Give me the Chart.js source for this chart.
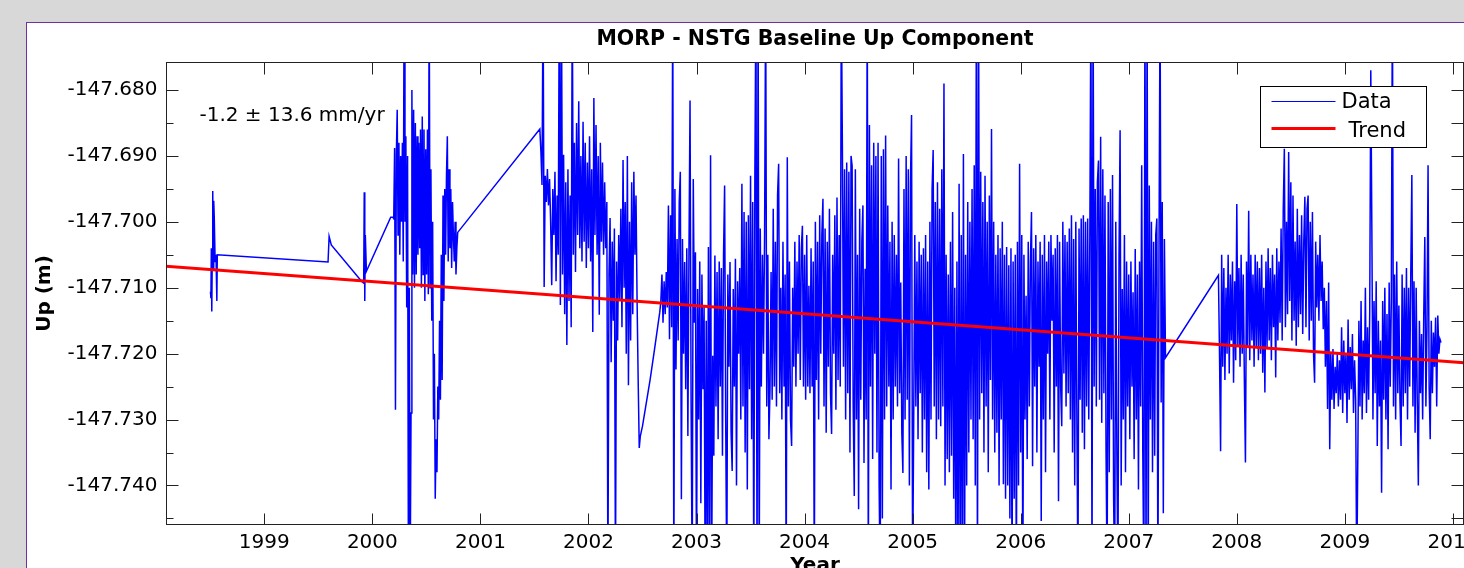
<!DOCTYPE html>
<html>
<head>
<meta charset="utf-8">
<title>MORP - NSTG Baseline Up Component</title>
<script src="https://cdn.jsdelivr.net/npm/chart.js@4.4.1/dist/chart.umd.min.js"></script>
<style>
  html, body { margin: 0; padding: 0; width: 1464px; height: 568px; overflow: hidden; background: #d8d8d8; }
  #panel { position: absolute; left: 26px; top: 22px; width: 1520px; height: 600px; background: #fff;
           border-left: 1px solid #7030a0; border-top: 1px solid #7030a0; }
  #wrap { position: absolute; left: 0; top: 0; width: 1500px; height: 560px; }
</style>
</head>
<body>
<div id="panel"><div id="wrap"><canvas id="chart"></canvas></div></div>
<script>
// daily solutions, [decimal year, up (m)]
const campaign1998 = [[1998.502,-147.7106],[1998.506,-147.7116],[1998.510,-147.704],[1998.514,-147.7136],[1998.518,-147.706],[1998.523,-147.6953],[1998.527,-147.7073],[1998.532,-147.6968],[1998.537,-147.6993],[1998.545,-147.706],[1998.553,-147.705],[1998.561,-147.712],[1998.565,-147.705]];

const sparse1999 = [[1999.59,-147.7061],[1999.60,-147.7022],[1999.62,-147.7035],[1999.90,-147.709],[1999.92,-147.7093],[1999.925,-147.6955],[1999.93,-147.712],[1999.935,-147.702],[1999.945,-147.7075],[2000.17,-147.6993]];

const dense2000 = [[2000.190,-147.6993],[2000.198,-147.6995],[2000.206,-147.6888],[2000.214,-147.7285],[2000.222,-147.69],[2000.230,-147.683],[2000.238,-147.702],[2000.246,-147.688],[2000.254,-147.705],[2000.262,-147.69],[2000.270,-147.7],[2000.278,-147.688],[2000.286,-147.706],[2000.294,-147.665],[2000.302,-147.7],[2000.310,-147.687],[2000.318,-147.713],[2000.326,-147.69],[2000.334,-147.755],[2000.342,-147.71],[2000.350,-147.755],[2000.358,-147.729],[2000.366,-147.68],[2000.374,-147.708],[2000.382,-147.683],[2000.390,-147.71],[2000.398,-147.685],[2000.406,-147.708],[2000.414,-147.687],[2000.422,-147.705],[2000.430,-147.688],[2000.438,-147.704],[2000.446,-147.686],[2000.454,-147.71],[2000.462,-147.684],[2000.470,-147.708],[2000.478,-147.686],[2000.486,-147.712],[2000.494,-147.689],[2000.502,-147.708],[2000.510,-147.686],[2000.518,-147.711],[2000.526,-147.665],[2000.534,-147.71],[2000.542,-147.692],[2000.550,-147.715],[2000.558,-147.7],[2000.566,-147.73],[2000.574,-147.72],[2000.582,-147.742],[2000.590,-147.733],[2000.598,-147.738],[2000.606,-147.725],[2000.614,-147.73],[2000.622,-147.715],[2000.630,-147.727],[2000.638,-147.705],[2000.646,-147.724],[2000.654,-147.696],[2000.662,-147.712],[2000.670,-147.695],[2000.678,-147.705],[2000.686,-147.693],[2000.694,-147.687],[2000.702,-147.706],[2000.710,-147.692],[2000.718,-147.704],[2000.726,-147.695],[2000.734,-147.707],[2000.742,-147.697],[2000.750,-147.702],[2000.758,-147.706],[2000.766,-147.7],[2000.774,-147.708],[2000.782,-147.704],[2000.790,-147.7016]];

const dense2001 = [[2001.55,-147.6859],[2001.56,-147.6894],[2001.57,-147.6944],[2001.58,-147.665],[2001.59,-147.7099],[2001.60,-147.693],[2001.61,-147.697],[2001.62,-147.692],[2001.63,-147.6975],[2001.64,-147.6935],[2001.65,-147.7],[2001.66,-147.7096],[2001.67,-147.695],[2001.68,-147.702],[2001.69,-147.6924],[2001.70,-147.709],[2001.71,-147.696],[2001.72,-147.705],[2001.73,-147.665],[2001.74,-147.7126],[2001.75,-147.665],[2001.76,-147.708],[2001.77,-147.6898],[2001.78,-147.714],[2001.79,-147.694],[2001.80,-147.7187],[2001.81,-147.692],[2001.82,-147.712],[2001.83,-147.696],[2001.84,-147.716],[2001.85,-147.665],[2001.86,-147.705],[2001.87,-147.688],[2001.88,-147.7076],[2001.89,-147.685],[2001.90,-147.702],[2001.91,-147.6817],[2001.92,-147.704],[2001.93,-147.69],[2001.94,-147.706],[2001.95,-147.6848],[2001.96,-147.703],[2001.97,-147.688],[2001.98,-147.707],[2001.99,-147.691],[2002.00,-147.704],[2002.01,-147.687],[2002.02,-147.706],[2002.03,-147.692],[2002.04,-147.7167],[2002.05,-147.6812],[2002.06,-147.702],[2002.07,-147.6853],[2002.08,-147.705],[2002.09,-147.69],[2002.10,-147.7141],[2002.11,-147.688],[2002.12,-147.703],[2002.13,-147.691],[2002.14,-147.705],[2002.15,-147.694],[2002.16,-147.704],[2002.17,-147.697],[2002.18,-147.755],[2002.19,-147.708],[2002.20,-147.6994],[2002.21,-147.7213],[2002.22,-147.703],[2002.23,-147.715],[2002.24,-147.701],[2002.25,-147.755],[2002.26,-147.706],[2002.27,-147.718],[2002.28,-147.702],[2002.29,-147.712],[2002.30,-147.698],[2002.31,-147.716],[2002.32,-147.6906],[2002.33,-147.71],[2002.34,-147.697],[2002.35,-147.72],[2002.36,-147.69],[2002.37,-147.7248],[2002.38,-147.7],[2002.39,-147.718],[2002.40,-147.694],[2002.41,-147.714],[2002.42,-147.6924],[2002.43,-147.705],[2002.44,-147.696],[2002.45,-147.712],[2002.46,-147.724],[2002.47,-147.7343],[2002.48,-147.7325],[2002.50,-147.731],[2002.53,-147.728],[2002.57,-147.724],[2002.61,-147.7195],[2002.64,-147.716],[2002.66,-147.7137]];

const dense2003 = [[2002.67,-147.712],[2002.68,-147.708],[2002.69,-147.7153],[2002.70,-147.709],[2002.71,-147.714],[2002.72,-147.7076],[2002.73,-147.713],[2002.74,-147.6975],[2002.75,-147.7178],[2002.76,-147.699],[2002.77,-147.716],[2002.78,-147.665],[2002.79,-147.755],[2002.80,-147.695],[2002.81,-147.7224],[2002.82,-147.7026],[2002.83,-147.718],[2002.84,-147.697],[2002.85,-147.6924],[2002.86,-147.7421],[2002.87,-147.7026],[2002.88,-147.72],[2002.89,-147.7061],[2002.90,-147.7254],[2002.91,-147.704],[2002.92,-147.7325],[2002.93,-147.705],[2002.94,-147.6816],[2002.95,-147.7279],[2002.96,-147.755],[2002.97,-147.6935],[2002.98,-147.7153],[2002.99,-147.7046],[2003.00,-147.755],[2003.01,-147.7102],[2003.02,-147.73],[2003.03,-147.706],[2003.04,-147.7427],[2003.05,-147.708],[2003.06,-147.7254],[2003.07,-147.7127],[2003.08,-147.755],[2003.09,-147.715],[2003.10,-147.755],[2003.11,-147.7038],[2003.12,-147.755],[2003.13,-147.6899],[2003.14,-147.755],[2003.15,-147.7203],[2003.16,-147.7355],[2003.17,-147.7051],[2003.18,-147.728],[2003.19,-147.7076],[2003.20,-147.733],[2003.21,-147.706],[2003.22,-147.725],[2003.23,-147.707],[2003.24,-147.7355],[2003.25,-147.7051],[2003.26,-147.6945],[2003.27,-147.73],[2003.28,-147.755],[2003.29,-147.708],[2003.30,-147.722],[2003.31,-147.7061],[2003.32,-147.732],[2003.33,-147.7378],[2003.34,-147.7102],[2003.35,-147.725],[2003.36,-147.7056],[2003.37,-147.74],[2003.38,-147.709],[2003.39,-147.72],[2003.40,-147.707],[2003.41,-147.73],[2003.42,-147.6942],[2003.43,-147.728],[2003.44,-147.6985],[2003.45,-147.735],[2003.46,-147.7],[2003.47,-147.7406],[2003.48,-147.699],[2003.49,-147.7254],[2003.50,-147.693],[2003.51,-147.733],[2003.52,-147.697],[2003.53,-147.755],[2003.54,-147.693],[2003.55,-147.665],[2003.56,-147.755],[2003.57,-147.665],[2003.58,-147.755],[2003.59,-147.701],[2003.60,-147.725],[2003.61,-147.705],[2003.62,-147.72],[2003.63,-147.702],[2003.64,-147.665],[2003.65,-147.728],[2003.66,-147.705],[2003.67,-147.733],[2003.68,-147.7254],[2003.69,-147.7076],[2003.70,-147.727],[2003.71,-147.698],[2003.72,-147.725],[2003.73,-147.703],[2003.74,-147.728],[2003.75,-147.696],[2003.76,-147.6912],[2003.77,-147.726],[2003.78,-147.71],[2003.79,-147.73],[2003.80,-147.703],[2003.81,-147.725],[2003.82,-147.708],[2003.83,-147.755],[2003.84,-147.6902],[2003.85,-147.728],[2003.86,-147.706],[2003.87,-147.73],[2003.88,-147.734],[2003.89,-147.71],[2003.90,-147.722],[2003.91,-147.703],[2003.92,-147.725],[2003.93,-147.706],[2003.94,-147.72],[2003.95,-147.702],[2003.96,-147.724],[2003.97,-147.704],[2003.98,-147.7006],[2003.99,-147.725],[2004.00,-147.705],[2004.01,-147.727],[2004.02,-147.702],[2004.03,-147.725],[2004.04,-147.7097],[2004.05,-147.726],[2004.06,-147.704],[2004.07,-147.725],[2004.08,-147.706],[2004.09,-147.755],[2004.10,-147.7],[2004.11,-147.724],[2004.12,-147.703],[2004.13,-147.73],[2004.14,-147.699],[2004.15,-147.72],[2004.16,-147.702],[2004.17,-147.6965],[2004.18,-147.728],[2004.19,-147.701],[2004.20,-147.732],[2004.21,-147.703],[2004.22,-147.722],[2004.23,-147.698],[2004.24,-147.726],[2004.25,-147.7322],[2004.26,-147.705],[2004.27,-147.72],[2004.28,-147.699],[2004.29,-147.7285],[2004.30,-147.6963],[2004.31,-147.724],[2004.32,-147.702],[2004.33,-147.725],[2004.34,-147.665],[2004.35,-147.6889],[2004.36,-147.722],[2004.37,-147.692],[2004.38,-147.73],[2004.39,-147.691],[2004.40,-147.726],[2004.41,-147.6924],[2004.42,-147.735],[2004.43,-147.69],[2004.44,-147.6915],[2004.45,-147.728],[2004.46,-147.7416],[2004.47,-147.692],[2004.48,-147.73],[2004.49,-147.705],[2004.50,-147.7436],[2004.51,-147.698],[2004.52,-147.727],[2004.53,-147.703],[2004.54,-147.6975],[2004.55,-147.7366],[2004.56,-147.7071],[2004.57,-147.73],[2004.58,-147.665],[2004.59,-147.755],[2004.60,-147.6853],[2004.61,-147.725],[2004.62,-147.6914],[2004.63,-147.736],[2004.64,-147.688],[2004.65,-147.72],[2004.66,-147.69],[2004.67,-147.735],[2004.68,-147.688],[2004.69,-147.74],[2004.70,-147.755],[2004.71,-147.69],[2004.72,-147.745],[2004.73,-147.689],[2004.74,-147.73],[2004.75,-147.6869],[2004.76,-147.728],[2004.77,-147.6975],[2004.78,-147.725],[2004.79,-147.703],[2004.80,-147.7406],[2004.81,-147.7],[2004.82,-147.73],[2004.83,-147.702],[2004.84,-147.725],[2004.85,-147.705],[2004.86,-147.728],[2004.87,-147.6904],[2004.88,-147.726],[2004.89,-147.7092],[2004.90,-147.732],[2004.91,-147.7381],[2004.92,-147.695],[2004.93,-147.73],[2004.94,-147.69],[2004.95,-147.727],[2004.96,-147.692],[2004.97,-147.74],[2004.98,-147.694],[2004.99,-147.6838],[2005.00,-147.755],[2005.01,-147.73],[2005.02,-147.702],[2005.03,-147.728],[2005.04,-147.706],[2005.05,-147.733],[2005.06,-147.703],[2005.07,-147.726],[2005.08,-147.705],[2005.09,-147.735],[2005.10,-147.704],[2005.11,-147.73],[2005.12,-147.702],[2005.13,-147.738],[2005.14,-147.706],[2005.15,-147.7406],[2005.16,-147.7],[2005.17,-147.73],[2005.18,-147.695],[2005.19,-147.6891],[2005.20,-147.728],[2005.21,-147.697],[2005.22,-147.733],[2005.23,-147.694],[2005.24,-147.73],[2005.25,-147.698],[2005.26,-147.731],[2005.27,-147.692],[2005.28,-147.728],[2005.29,-147.679],[2005.30,-147.74],[2005.31,-147.705],[2005.32,-147.736],[2005.33,-147.708],[2005.34,-147.738],[2005.35,-147.703],[2005.36,-147.7355],[2005.37,-147.6985],[2005.38,-147.742],[2005.39,-147.71],[2005.40,-147.755],[2005.41,-147.706],[2005.42,-147.755],[2005.43,-147.6942],[2005.44,-147.755],[2005.45,-147.702],[2005.46,-147.755],[2005.47,-147.6897],[2005.48,-147.755],[2005.49,-147.705],[2005.50,-147.74],[2005.51,-147.697],[2005.52,-147.735],[2005.53,-147.7],[2005.54,-147.73],[2005.55,-147.695],[2005.56,-147.733],[2005.57,-147.6914],[2005.58,-147.74],[2005.59,-147.665],[2005.60,-147.755],[2005.61,-147.665],[2005.62,-147.73],[2005.63,-147.6924],[2005.64,-147.726],[2005.65,-147.697],[2005.66,-147.735],[2005.67,-147.693],[2005.68,-147.728],[2005.69,-147.7],[2005.70,-147.738],[2005.71,-147.696],[2005.72,-147.724],[2005.73,-147.6859],[2005.74,-147.73],[2005.75,-147.7],[2005.76,-147.735],[2005.77,-147.705],[2005.78,-147.732],[2005.79,-147.702],[2005.80,-147.74],[2005.81,-147.704],[2005.82,-147.73],[2005.83,-147.7],[2005.84,-147.7398],[2005.85,-147.705],[2005.86,-147.742],[2005.87,-147.7038],[2005.88,-147.74],[2005.89,-147.7066],[2005.90,-147.745],[2005.91,-147.704],[2005.92,-147.755],[2005.93,-147.706],[2005.94,-147.742],[2005.95,-147.705],[2005.96,-147.755],[2005.97,-147.703],[2005.98,-147.74],[2005.99,-147.6912],[2006.00,-147.735],[2006.01,-147.702],[2006.02,-147.755],[2006.03,-147.705],[2006.04,-147.73],[2006.05,-147.7112],[2006.06,-147.736],[2006.07,-147.703],[2006.08,-147.728],[2006.09,-147.706],[2006.10,-147.6985],[2006.11,-147.7371],[2006.12,-147.704],[2006.13,-147.725],[2006.14,-147.702],[2006.15,-147.735],[2006.16,-147.706],[2006.17,-147.722],[2006.18,-147.703],[2006.19,-147.7454],[2006.20,-147.705],[2006.21,-147.73],[2006.22,-147.702],[2006.23,-147.738],[2006.24,-147.706],[2006.25,-147.72],[2006.26,-147.703],[2006.27,-147.73],[2006.28,-147.702],[2006.29,-147.715],[2006.30,-147.705],[2006.31,-147.735],[2006.32,-147.704],[2006.33,-147.725],[2006.34,-147.702],[2006.35,-147.7424],[2006.36,-147.703],[2006.37,-147.725],[2006.38,-147.731],[2006.39,-147.7],[2006.40,-147.723],[2006.41,-147.702],[2006.42,-147.728],[2006.43,-147.703],[2006.44,-147.726],[2006.45,-147.701],[2006.46,-147.73],[2006.47,-147.699],[2006.48,-147.735],[2006.49,-147.7026],[2006.50,-147.74],[2006.51,-147.7],[2006.52,-147.73],[2006.53,-147.755],[2006.54,-147.701],[2006.55,-147.727],[2006.56,-147.6995],[2006.57,-147.732],[2006.58,-147.699],[2006.59,-147.7345],[2006.60,-147.7],[2006.61,-147.728],[2006.62,-147.6995],[2006.63,-147.73],[2006.64,-147.702],[2006.65,-147.665],[2006.66,-147.755],[2006.67,-147.665],[2006.68,-147.725],[2006.69,-147.695],[2006.70,-147.728],[2006.71,-147.694],[2006.72,-147.6907],[2006.73,-147.727],[2006.74,-147.6871],[2006.75,-147.7305],[2006.76,-147.692],[2006.77,-147.726],[2006.78,-147.696],[2006.79,-147.735],[2006.80,-147.755],[2006.81,-147.697],[2006.82,-147.738],[2006.83,-147.695],[2006.84,-147.73],[2006.85,-147.6929],[2006.86,-147.742],[2006.87,-147.755],[2006.88,-147.7],[2006.89,-147.735],[2006.90,-147.755],[2006.91,-147.705],[2006.92,-147.6861],[2006.93,-147.74],[2006.94,-147.7102],[2006.95,-147.73],[2006.96,-147.702],[2006.97,-147.738],[2006.98,-147.706],[2006.99,-147.728],[2007.00,-147.708],[2007.01,-147.733],[2007.02,-147.706],[2007.03,-147.725],[2007.04,-147.7107],[2007.05,-147.736],[2007.06,-147.7041],[2007.07,-147.73],[2007.08,-147.708],[2007.09,-147.7406],[2007.10,-147.706],[2007.11,-147.728],[2007.12,-147.6914],[2007.13,-147.735],[2007.14,-147.755],[2007.15,-147.665],[2007.16,-147.755],[2007.17,-147.665],[2007.18,-147.755],[2007.19,-147.6945],[2007.20,-147.73],[2007.21,-147.7],[2007.22,-147.738],[2007.23,-147.703],[2007.24,-147.7355],[2007.25,-147.702],[2007.26,-147.6995],[2007.27,-147.755],[2007.28,-147.705],[2007.29,-147.665],[2007.30,-147.7274],[2007.31,-147.697],[2007.32,-147.7442],[2007.33,-147.7026],[2007.34,-147.7206]];

const dense2008 = [[2007.83,-147.7081],[2007.84,-147.72],[2007.85,-147.7348],[2007.86,-147.705],[2007.87,-147.722],[2007.88,-147.707],[2007.89,-147.724],[2007.90,-147.71],[2007.91,-147.72],[2007.92,-147.705],[2007.93,-147.723],[2007.94,-147.708],[2007.95,-147.718],[2007.96,-147.706],[2007.97,-147.7244],[2007.98,-147.709],[2007.99,-147.721],[2008.00,-147.6973],[2008.01,-147.719],[2008.02,-147.707],[2008.03,-147.722],[2008.04,-147.705],[2008.05,-147.72],[2008.06,-147.708],[2008.07,-147.724],[2008.08,-147.7365],[2008.09,-147.706],[2008.10,-147.719],[2008.11,-147.6983],[2008.12,-147.721],[2008.13,-147.705],[2008.14,-147.718],[2008.15,-147.708],[2008.16,-147.722],[2008.17,-147.705],[2008.18,-147.719],[2008.19,-147.706],[2008.20,-147.721],[2008.21,-147.707],[2008.22,-147.72],[2008.23,-147.705],[2008.24,-147.7229],[2008.25,-147.71],[2008.26,-147.7259],[2008.27,-147.706],[2008.28,-147.719],[2008.29,-147.704],[2008.30,-147.718],[2008.31,-147.707],[2008.32,-147.721],[2008.33,-147.705],[2008.34,-147.716],[2008.35,-147.708],[2008.36,-147.7236],[2008.37,-147.704],[2008.38,-147.718],[2008.39,-147.706],[2008.40,-147.7153],[2008.41,-147.701],[2008.42,-147.718],[2008.43,-147.698],[2008.44,-147.6889],[2008.45,-147.716],[2008.46,-147.7],[2008.47,-147.714],[2008.48,-147.6894],[2008.49,-147.712],[2008.50,-147.694],[2008.51,-147.718],[2008.52,-147.696],[2008.53,-147.715],[2008.54,-147.703],[2008.55,-147.7188],[2008.56,-147.698],[2008.57,-147.716],[2008.58,-147.702],[2008.59,-147.714],[2008.60,-147.699],[2008.61,-147.717],[2008.62,-147.703],[2008.63,-147.6962],[2008.64,-147.716],[2008.65,-147.698],[2008.66,-147.696],[2008.67,-147.718],[2008.68,-147.7],[2008.69,-147.715],[2008.70,-147.6985],[2008.71,-147.72],[2008.72,-147.7244],[2008.73,-147.703],[2008.74,-147.713],[2008.75,-147.705],[2008.76,-147.715],[2008.77,-147.702],[2008.78,-147.712],[2008.79,-147.706],[2008.80,-147.7163],[2008.81,-147.71],[2008.82,-147.722],[2008.83,-147.712],[2008.84,-147.7284],[2008.85,-147.7092],[2008.86,-147.7345],[2008.87,-147.72],[2008.88,-147.727],[2008.89,-147.7193],[2008.90,-147.7284],[2008.91,-147.722],[2008.92,-147.726],[2008.93,-147.72],[2008.94,-147.728],[2008.95,-147.721],[2008.96,-147.727],[2008.97,-147.716],[2008.98,-147.729],[2008.99,-147.718],[2009.00,-147.726],[2009.01,-147.72],[2009.02,-147.7305],[2009.03,-147.7148],[2009.04,-147.727],[2009.05,-147.719],[2009.06,-147.7254],[2009.07,-147.717],[2009.08,-147.729],[2009.09,-147.721],[2009.10,-147.727],[2009.11,-147.755],[2009.12,-147.7355],[2009.13,-147.715],[2009.14,-147.728],[2009.15,-147.712],[2009.16,-147.73],[2009.17,-147.718],[2009.18,-147.726],[2009.19,-147.71],[2009.20,-147.729],[2009.21,-147.716],[2009.22,-147.727],[2009.23,-147.714],[2009.24,-147.677],[2009.25,-147.7015],[2009.26,-147.73],[2009.27,-147.712],[2009.28,-147.726],[2009.29,-147.709],[2009.30,-147.734],[2009.31,-147.715],[2009.32,-147.728],[2009.33,-147.718],[2009.34,-147.7411],[2009.35,-147.712],[2009.36,-147.727],[2009.37,-147.71],[2009.38,-147.73],[2009.39,-147.714],[2009.40,-147.7345],[2009.41,-147.7092],[2009.42,-147.725],[2009.43,-147.712],[2009.44,-147.665],[2009.45,-147.728],[2009.46,-147.708],[2009.47,-147.73],[2009.48,-147.706],[2009.49,-147.726],[2009.50,-147.7127],[2009.51,-147.727],[2009.52,-147.734],[2009.53,-147.708],[2009.54,-147.728],[2009.55,-147.71],[2009.56,-147.726],[2009.57,-147.707],[2009.58,-147.73],[2009.59,-147.71],[2009.60,-147.725],[2009.61,-147.708],[2009.62,-147.6929],[2009.63,-147.728],[2009.64,-147.709],[2009.65,-147.732],[2009.66,-147.71],[2009.67,-147.727],[2009.68,-147.74],[2009.69,-147.715],[2009.70,-147.726],[2009.71,-147.717],[2009.72,-147.73],[2009.73,-147.7142],[2009.74,-147.7023],[2009.75,-147.728],[2009.76,-147.716],[2009.77,-147.6914],[2009.78,-147.725],[2009.79,-147.733],[2009.80,-147.715],[2009.81,-147.726],[2009.82,-147.7168],[2009.83,-147.722],[2009.84,-147.7145],[2009.85,-147.728],[2009.86,-147.7142],[2009.87,-147.72],[2009.88,-147.7178],[2009.89,-147.7183]];

// fitted trend, end points
const trendYears = [1998.0, 2010.2];
const trendUp = [-147.70664, -147.72148];

const yearTicks = [1999, 2000, 2001, 2002, 2003, 2004, 2005, 2006, 2007, 2008, 2009, 2010];
const upTicks = [-147.745, -147.740, -147.735, -147.730, -147.725, -147.720, -147.715, -147.710,
                 -147.705, -147.700, -147.695, -147.690, -147.685, -147.680];

const rateNote = '-1.2 \u00b1 13.6 mm/yr';
const noteAt = [1998.40, -147.6839];

const FONT = "'DejaVu Sans', sans-serif";
const isMajor = v => Math.round(v * 1000) % 10 === 0;

const dataPoints = [].concat(campaign1998, sparse1999, dense2000, dense2001, dense2003, dense2008)
  .map(([x, y]) => ({ x, y }));
const trendPoints = trendYears.map((x, i) => ({ x, y: trendUp[i] }));

// box, inward ticks, rate note and legend, drawn on top like the matlab figure
const framePlugin = {
  id: 'frame',
  afterDatasetsDraw(chart) {
    const { ctx, chartArea: a, scales: { x, y } } = chart;
    ctx.save();
    ctx.strokeStyle = '#222';
    ctx.lineWidth = 1;
    ctx.strokeRect(a.left, a.top, a.right - a.left, a.bottom - a.top);

    ctx.beginPath();
    yearTicks.forEach(v => {
      const px = Math.round(x.getPixelForValue(v)) + 0.5;
      ctx.moveTo(px, a.bottom); ctx.lineTo(px, a.bottom - 11);
      ctx.moveTo(px, a.top); ctx.lineTo(px, a.top + 12);
    });
    upTicks.forEach(v => {
      const py = Math.round(y.getPixelForValue(v)) + 0.5;
      ctx.moveTo(a.left, py); ctx.lineTo(a.left + (isMajor(v) ? 12 : 7), py);
      ctx.moveTo(a.right, py); ctx.lineTo(a.right - 12, py);
    });
    ctx.stroke();

    ctx.fillStyle = '#000';
    ctx.font = '20px ' + FONT;
    ctx.textBaseline = 'middle';
    ctx.textAlign = 'left';
    ctx.fillText(rateNote, x.getPixelForValue(noteAt[0]), y.getPixelForValue(noteAt[1]));

    // legend box
    const lx = a.right - 203, ly = a.top + 24;
    ctx.fillStyle = '#fff';
    ctx.fillRect(lx, ly, 166, 61);
    ctx.strokeStyle = '#000';
    ctx.lineWidth = 1;
    ctx.strokeRect(lx, ly, 166, 61);
    const rows = [{ dy: 15, tx: 81, ty: 16.5 }, { dy: 42, tx: 88, ty: 45.5 }];
    ctx.font = '21px ' + FONT;
    chart.data.datasets.forEach((ds, i) => {
      const r = rows[i];
      ctx.strokeStyle = ds.borderColor;
      ctx.lineWidth = i === 0 ? 1 : ds.borderWidth;
      ctx.beginPath();
      ctx.moveTo(lx + 11, ly + r.dy);
      ctx.lineTo(lx + 75, ly + r.dy);
      ctx.stroke();
      ctx.fillStyle = '#000';
      ctx.fillText(ds.label, lx + r.tx, ly + r.ty);
    });
    ctx.restore();
  }
};

Chart.defaults.font.family = FONT;
Chart.defaults.color = '#000';

new Chart(document.getElementById('chart'), {
  type: 'line',
  data: {
    datasets: [
      { label: 'Data', data: dataPoints, borderColor: '#0000ff', borderWidth: 1.5, pointRadius: 0, tension: 0, order: 2 },
      { label: 'Trend', data: trendPoints, borderColor: '#ff0000', borderWidth: 3, pointRadius: 0, tension: 0, order: 1 }
    ]
  },
  options: {
    animation: false,
    responsive: true,
    maintainAspectRatio: false,
    devicePixelRatio: 1,
    normalized: true,
    events: [],
    layout: { padding: { left: 0, right: 63.5, top: 0, bottom: 0 } },
    plugins: {
      legend: { display: false },
      tooltip: { enabled: false },
      title: {
        display: true,
        fullSize: false,
        text: 'MORP - NSTG Baseline Up Component',
        color: '#000',
        font: { size: 20.5, weight: 'bold' },
        padding: { top: 4, bottom: 10.9 }
      }
    },
    scales: {
      x: {
        type: 'linear',
        min: 1998.095,
        max: 2010.098,
        afterBuildTicks: s => { s.ticks = yearTicks.map(v => ({ value: v })); },
        afterFit: s => { s.height = 58.5; },
        grid: { display: false, drawTicks: false },
        border: { display: false },
        ticks: { font: { size: 20 }, padding: 6, autoSkip: false, maxRotation: 0, callback: v => String(v) },
        title: { display: true, text: 'Year', font: { size: 20, weight: 'bold' }, padding: { top: 0, bottom: 5.7 } }
      },
      y: {
        type: 'linear',
        min: -147.74592,
        max: -147.67582,
        afterBuildTicks: s => { s.ticks = upTicks.map(v => ({ value: v })); },
        afterFit: s => { s.width = 139.5; },
        grid: { display: false, drawTicks: false },
        border: { display: false },
        ticks: { font: { size: 20 }, padding: 9, autoSkip: false, callback: v => isMajor(v) ? v.toFixed(3) : '' },
        title: { display: true, text: 'Up (m)', font: { size: 20, weight: 'bold' }, padding: { top: 6, bottom: 0 } }
      }
    }
  },
  plugins: [framePlugin]
});
</script>
</body>
</html>
